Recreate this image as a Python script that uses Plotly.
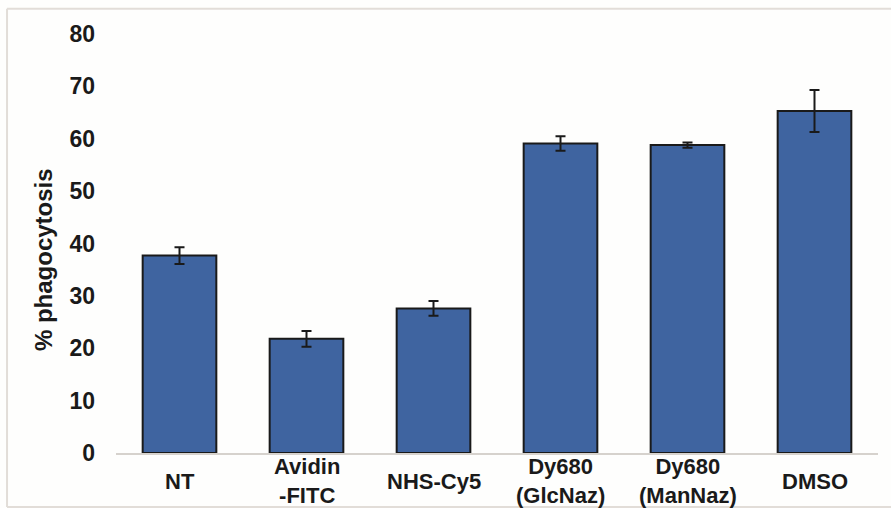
import plotly.graph_objects as go

# Phagocytosis per treatment group (mean ± error)
categories = ["NT", "Avidin<br>-FITC", "NHS-Cy5", "Dy680<br>(GlcNaz)", "Dy680<br>(ManNaz)", "DMSO"]
phagocytosis = [37.7, 21.8, 27.6, 59.1, 58.8, 65.3]
errors = [1.6, 1.5, 1.4, 1.4, 0.5, 4.0]
y_ticks = [0, 10, 20, 30, 40, 50, 60, 70, 80]

FONT = "Liberation Sans, Arial, sans-serif"
INK = "#1a1a1a"

fig = go.Figure()
fig.add_trace(go.Bar(
    x=categories,
    y=phagocytosis,
    marker=dict(color="#3F64A0", line=dict(color=INK, width=2)),
    error_y=dict(type="data", array=errors, visible=True,
                 color=INK, thickness=2, width=5),
    showlegend=False,
))

# Category labels, vertically centred beneath each bar
for cat in categories:
    fig.add_annotation(
        x=cat, xref="x", y=0, yref="paper",
        yshift=-28, yanchor="middle", xanchor="center",
        text=f"<b>{cat}</b>", showarrow=False, align="center",
        font=dict(family=FONT, size=22, color=INK),
    )

# Y-axis title, placed slightly below the plot's vertical centre
fig.add_annotation(
    x=-0.095, xref="paper", y=0.5, yref="paper", yshift=-16,
    xanchor="center", yanchor="middle", textangle=-90,
    text="<b>% phagocytosis</b>", showarrow=False,
    font=dict(family=FONT, size=24, color=INK),
)

frame = dict(color="#e2ddd8", width=2)
fig.update_layout(
    width=891, height=508,
    margin=dict(l=116, r=13, t=34, b=55),
    paper_bgcolor="#fefefd", plot_bgcolor="#fefefd",
    bargap=0.42,
    font=dict(family=FONT, color=INK),
    shapes=[
        # thin frame around the figure
        dict(type="line", xref="paper", yref="paper", x0=-0.143, x1=1.02, y0=1.06, y1=1.06, line=frame),
        dict(type="line", xref="paper", yref="paper", x0=-0.143, x1=-0.143, y0=1.06, y1=-0.129, line=frame),
        dict(type="line", xref="paper", yref="paper", x0=-0.143, x1=1.02, y0=-0.129, y1=-0.129, line=frame),
    ],
)

fig.update_xaxes(
    showticklabels=False, ticks="",
    showline=True, linecolor="#d6d2cd", linewidth=2,
    showgrid=False, zeroline=False,
)
fig.update_yaxes(
    range=[0, 80], tickvals=y_ticks,
    ticktext=[f"<b>{v}</b>" for v in y_ticks],
    tickfont=dict(family=FONT, size=23, color=INK),
    ticks="", ticklabelstandoff=20,
    showgrid=False, zeroline=False, showline=False,
)

fig.write_html("out.html")
